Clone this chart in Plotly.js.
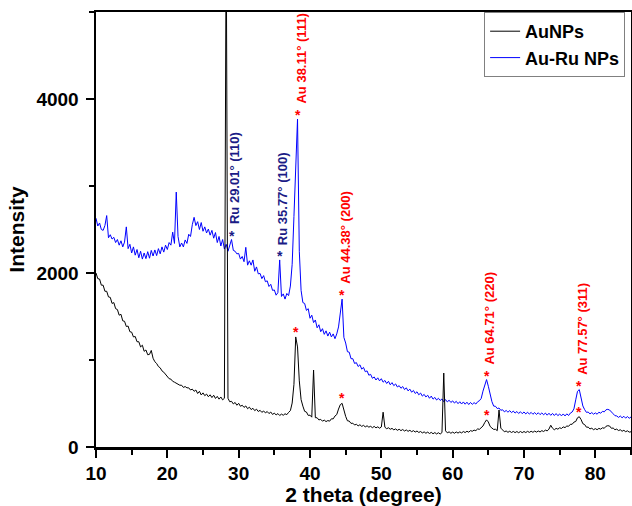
<!DOCTYPE html>
<html><head><meta charset="utf-8">
<script src="https://cdn.plot.ly/plotly-3.0.1.min.js"></script>
<style>html,body{margin:0;padding:0;background:#fff}#chart{width:632px;height:506px}</style>
</head><body><div id="chart"></div>
<script>
// 2-theta sampling (degrees)
const twoTheta = [
10,10.25,10.5,10.75,11,11.25,11.5,11.75,
12,12.25,12.5,12.75,13,13.25,13.5,13.75,
14,14.25,14.5,14.75,15,15.25,15.5,15.75,
16,16.25,16.5,16.75,17,17.25,17.5,17.75,
18,18.25,18.5,18.75,19,19.25,19.5,19.75,
20,20.25,20.5,20.75,21,21.25,21.5,21.75,
22,22.25,22.5,22.75,23,23.25,23.5,23.75,
24,24.25,24.5,24.75,25,25.25,25.5,25.75,
26,26.25,26.5,26.75,27,27.25,27.5,27.75,
28,28.25,28.5,28.75,29,29.25,29.5,29.75,
30,30.25,30.5,30.75,31,31.25,31.5,31.75,
32,32.25,32.5,32.75,33,33.25,33.5,33.75,
34,34.25,34.5,34.75,35,35.25,35.5,35.75,
36,36.25,36.5,36.75,37,37.25,37.5,37.75,
38,38.25,38.5,38.75,39,39.25,39.5,39.75,
40,40.25,40.5,40.75,41,41.25,41.5,41.75,
42,42.25,42.5,42.75,43,43.25,43.5,43.75,
44,44.25,44.5,44.75,45,45.25,45.5,45.75,
46,46.25,46.5,46.75,47,47.25,47.5,47.75,
48,48.25,48.5,48.75,49,49.25,49.5,49.75,
50,50.25,50.5,50.75,51,51.25,51.5,51.75,
52,52.25,52.5,52.75,53,53.25,53.5,53.75,
54,54.25,54.5,54.75,55,55.25,55.5,55.75,
56,56.25,56.5,56.75,57,57.25,57.5,57.75,
58,58.25,58.5,58.75,59,59.25,59.5,59.75,
60,60.25,60.5,60.75,61,61.25,61.5,61.75,
62,62.25,62.5,62.75,63,63.25,63.5,63.75,
64,64.25,64.5,64.75,65,65.25,65.5,65.75,
66,66.25,66.5,66.75,67,67.25,67.5,67.75,
68,68.25,68.5,68.75,69,69.25,69.5,69.75,
70,70.25,70.5,70.75,71,71.25,71.5,71.75,
72,72.25,72.5,72.75,73,73.25,73.5,73.75,
74,74.25,74.5,74.75,75,75.25,75.5,75.75,
76,76.25,76.5,76.75,77,77.25,77.5,77.75,
78,78.25,78.5,78.75,79,79.25,79.5,79.75,
80,80.25,80.5,80.75,81,81.25,81.5,81.75,
82,82.25,82.5,82.75,83,83.25,83.5,83.75,
84,84.25,84.5,84.75,85
];

// AuNPs intensity (black)
const auNPs = [
2000,1935,1930,1860,1860,1790,1790,1725,
1720,1650,1660,1590,1580,1515,1525,1450,
1445,1385,1390,1325,1320,1265,1270,1210,
1210,1150,1170,1100,1115,1060,1065,1110,
1020,980,960,925,910,875,860,830,
810,785,780,755,745,730,725,710,
710,685,695,680,680,655,665,640,
655,615,640,598,622,590,608,578,
600,568,595,558,582,550,575,542,
560,6000,560,520,525,495,512,480,
502,468,480,455,472,440,458,430,
445,418,435,408,422,398,414,392,
408,384,402,374,390,368,384,362,
378,365,382,372,398,418,505,720,
1265,1150,760,545,470,410,402,363,
366,343,885,337,336,311,318,297,
309,292,304,297,324,323,356,373,
436,487,502,413,352,301,298,271,
274,253,261,243,256,237,249,231,
244,228,238,222,237,220,232,216,
230,400,227,210,221,204,214,197,
208,192,204,188,201,184,196,180,
192,176,188,172,184,167,178,162,
174,158,171,155,168,152,166,150,
164,149,166,850,186,163,174,158,
171,158,173,160,174,162,178,166,
181,170,188,181,194,188,208,203,
228,241,282,312,288,237,218,202,
204,188,425,217,196,175,184,169,
181,167,179,165,178,164,178,165,
178,166,180,168,181,169,183,171,
184,173,188,178,194,185,206,250,
216,198,214,205,221,213,231,223,
241,238,261,261,286,293,336,348,
316,268,258,228,228,208,216,199,
211,199,214,205,221,215,238,245,
241,215,218,198,206,189,198,181,
192,176,186,171,175
];

// Au-Ru NPs intensity (blue)
const auRuNPs = [
2630,2540,2575,2500,2490,2545,2660,2405,
2440,2390,2410,2350,2385,2320,2370,2300,
2355,2530,2280,2330,2230,2300,2205,2270,
2175,2250,2160,2230,2165,2245,2170,2260,
2195,2265,2200,2280,2220,2300,2240,2320,
2270,2350,2320,2470,2340,2930,2420,2300,
2345,2300,2380,2340,2445,2420,2555,2640,
2545,2590,2500,2580,2480,2530,2460,2505,
2435,2490,2400,2465,2350,2420,2310,2385,
2275,2330,2250,2320,2385,2260,2250,2220,
2225,2160,2190,2130,2295,2090,2140,2090,
2150,2020,2070,1990,1995,1935,1970,1900,
1910,1845,1870,1800,1805,1745,1775,2150,
1730,1760,1700,1765,1740,1850,2100,2650,
3350,3770,2250,1800,1660,1650,1570,1590,
1480,1515,1430,1460,1370,1405,1325,1360,
1295,1335,1275,1320,1265,1300,1245,1300,
1380,1560,1700,1260,1195,1095,1090,1015,
1015,960,970,925,945,895,915,865,
875,825,835,790,805,770,795,760,
785,745,765,730,755,715,740,705,
725,690,705,675,695,660,680,645,
665,630,650,615,635,600,620,585,
605,575,595,560,585,550,570,540,
560,535,552,520,545,518,538,512,
530,505,525,498,520,494,518,492,
515,488,512,490,510,494,520,532,
558,642,718,775,698,596,522,470,
468,442,448,422,428,404,420,400,
418,395,413,390,408,385,405,383,
403,380,400,378,398,376,396,374,
394,372,392,370,390,366,388,364,
386,362,384,360,380,358,380,357,
381,362,390,402,438,542,640,660,
558,472,430,398,402,380,396,377,
392,377,400,388,410,404,428,433,
425,398,382,360,357,340,356,336,
353,332,350,330,345
];

const seriesNames = ['AuNPs', 'Au-Ru NPs'];
const peakLabels = ['Ru 29.01° (110)', 'Ru 35.77° (100)', 'Au 38.11° (111)', 'Au 44.38° (200)', 'Au 64.71° (220)', 'Au 77.57° (311)'];
const peakAngles = [29.01, 35.77, 38.11, 44.38, 64.71, 77.57];
const auPeakAngles = [38.11, 44.38, 64.71, 77.57];

const FONT = '"Liberation Sans", Arial, sans-serif';
const RED = '#ff0000';
const NAVY = '#1b1b86';

function localMax(xs, ys, center, half) {
  let bi = -1;
  for (let i = 0; i < xs.length; i++) {
    if (Math.abs(xs[i] - center) <= half && (bi < 0 || ys[i] > ys[bi])) bi = i;
  }
  return {x: xs[bi], y: ys[bi]};
}

const annotations = [];
peakLabels.forEach((lab, i) => {
  const col = lab.startsWith('Ru') ? NAVY : RED;
  const p = localMax(twoTheta, auRuNPs, peakAngles[i], 0.4);
  annotations.push({x: p.x, y: p.y, xref: 'x', yref: 'y', text: '*', showarrow: false,
    xanchor: 'center', yanchor: 'middle', yshift: 4,
    font: {family: FONT, size: 14, color: col, weight: 'bold'}});
  annotations.push({x: p.x, y: p.y, xref: 'x', yref: 'y', text: lab, showarrow: false,
    textangle: -90, xanchor: 'center', yanchor: 'bottom', yshift: 13, xshift: 3,
    font: {family: FONT, size: 13, color: col, weight: 'bold'}});
});
auPeakAngles.forEach(a => {
  const p = localMax(twoTheta, auNPs, a, 0.4);
  annotations.push({x: p.x, y: p.y, xref: 'x', yref: 'y', text: '*', showarrow: false,
    xanchor: 'center', yanchor: 'middle', yshift: 5,
    font: {family: FONT, size: 14, color: RED, weight: 'bold'}});
});

const traces = [
  {x: twoTheta, y: auRuNPs, type: 'scatter', mode: 'lines', name: seriesNames[1], legendrank: 2,
   line: {color: '#0000ff', width: 1}},
  {x: twoTheta, y: auNPs, type: 'scatter', mode: 'lines', name: seriesNames[0], legendrank: 1,
   line: {color: '#000000', width: 1}}
];

const axisCommon = {
  ticks: 'outside', ticklen: 8, tickwidth: 2, tickcolor: '#000',
  showline: true, linewidth: 2.5, linecolor: '#000', mirror: true,
  showgrid: false, zeroline: false,
  tickfont: {family: FONT, size: 19, color: '#000', weight: 'bold'}
};

const layout = {
  width: 632, height: 506,
  margin: {l: 96, r: 1, t: 12, b: 59, pad: 0},
  paper_bgcolor: '#fff', plot_bgcolor: '#fff',
  showlegend: true,
  legend: {x: 0.989, xanchor: 'right', y: 1, yanchor: 'top', bgcolor: '#fff',
    bordercolor: '#808080', borderwidth: 1, tracegroupgap: 0,
    font: {family: FONT, size: 18, color: '#000', weight: 'bold'}},
  xaxis: Object.assign({}, axisCommon, {
    range: [10, 85], tick0: 10, dtick: 10,
    minor: {dtick: 5, tick0: 10, ticks: 'outside', ticklen: 5, tickwidth: 2, tickcolor: '#000', showgrid: false},
    title: {text: '2 theta (degree)', standoff: 6, font: {family: FONT, size: 21, color: '#000', weight: 'bold'}}
  }),
  yaxis: Object.assign({}, axisCommon, {
    range: [0, 5000], tick0: 0, dtick: 2000, ticklabelstandoff: 3,
    minor: {dtick: 1000, tick0: 0, ticks: 'outside', ticklen: 5, tickwidth: 2, tickcolor: '#000', showgrid: false},
    title: {text: 'Intensity', standoff: 6, font: {family: FONT, size: 21, color: '#000', weight: 'bold'}}
  }),
  annotations: annotations
};

Plotly.newPlot('chart', traces, layout, {staticPlot: true, displayModeBar: false});
</script>
</body></html>
